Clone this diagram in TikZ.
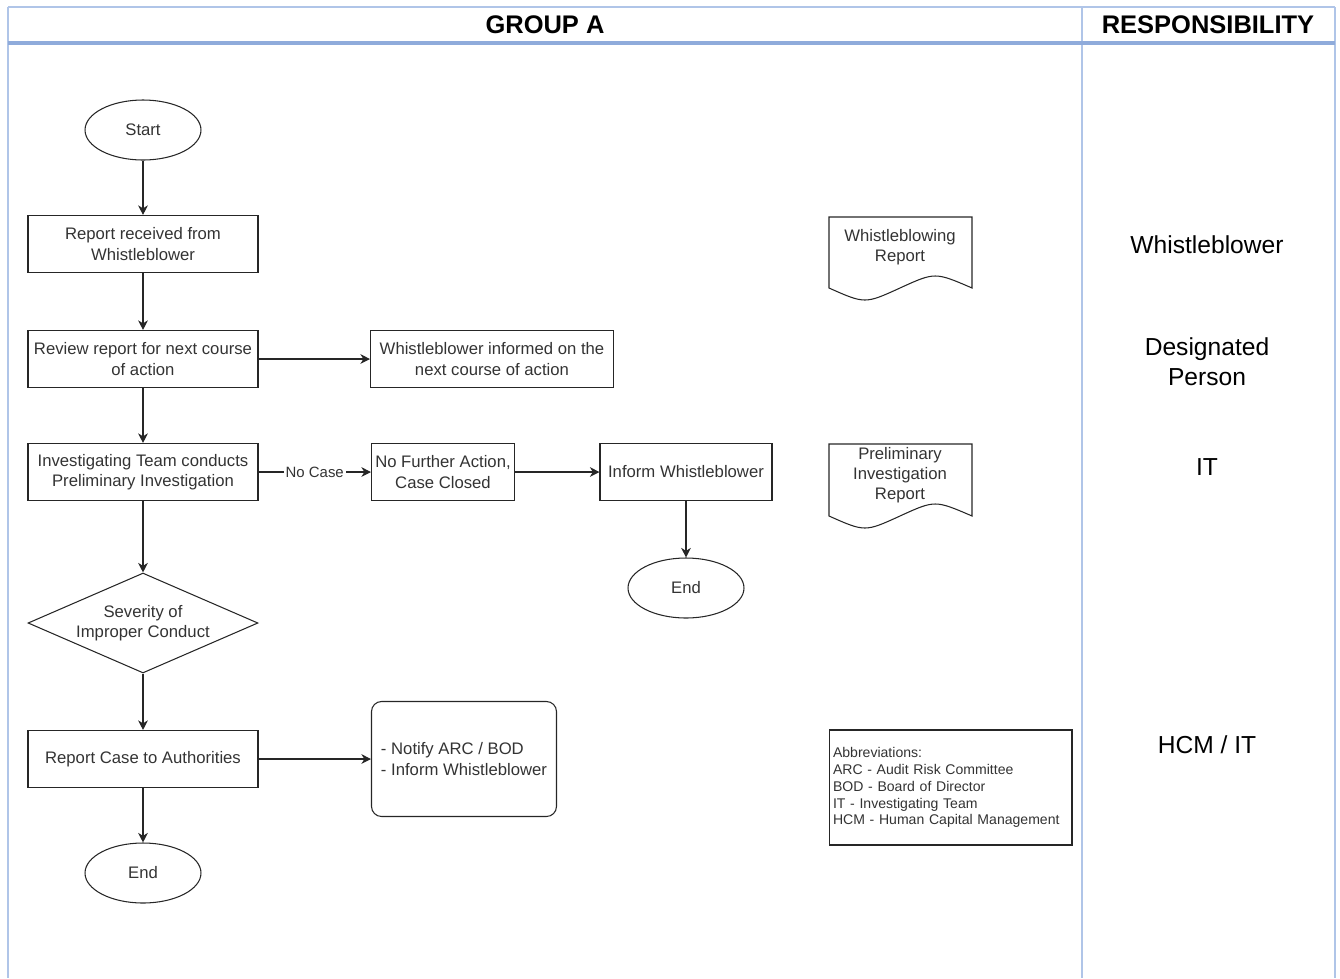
\documentclass[tikz,border=0pt]{standalone}
\usepackage{fontspec}
\setmainfont{Liberation Sans}
\usetikzlibrary{shapes.geometric,arrows.meta}
\definecolor{lanecol}{RGB}{176,197,232}
\definecolor{headcol}{RGB}{143,171,219}
\begin{document}
\begin{tikzpicture}[x=0.02cm,y=-0.02cm,
    every node/.style={font=\fontsize{9.5}{11.5}\selectfont, text=black!80},
    box/.style={draw=black!85, line width=0.6pt, minimum width=4.6cm, minimum height=1.14cm, align=center, inner sep=1pt},
    term/.style={draw=black!85, line width=0.6pt, ellipse, minimum width=2.32cm, minimum height=1.2cm, inner sep=0pt},
    decision/.style={draw=black!85, line width=0.6pt, diamond, aspect=2.3, minimum width=4.6cm, minimum height=2cm, align=center, inner sep=0pt},
    flow/.style={draw=black!85, line width=0.6pt, -{Stealth[length=5.5pt,width=5.5pt]}},
    docsheet/.style={draw=black!85, line width=0.6pt},
    lane/.style={draw=lanecol, line width=1.1pt},
    resp/.style={font=\fontsize{14}{17}\selectfont, text=black, align=center},
    headtext/.style={font=\fontsize{14.5}{17}\selectfont\bfseries, text=black}]
    \useasboundingbox (0,0) rectangle (1340,978);

    % lanes
    \draw[lane] (8,7) -- (1335,7);
    \draw[lane] (8,7) -- (8,978);
    \draw[lane] (1082,7) -- (1082,978);
    \draw[lane] (1335,7) -- (1335,978);
    \draw[headcol, line width=2.3pt] (8,43) -- (1335,43);
    \node[headtext] (grouphead) at (545,25) {GROUP A};
    \node[headtext] (resphead) at (1208,25) {RESPONSIBILITY};

    % flow
    \node[term] (start) at (143,130) {Start};
    \node[box] (received) at (143,244) {Report received from\\Whistleblower};
    \node[box] (review) at (143,359) {Review report for next course\\of action};
    \node[box, minimum width=4.86cm] (informed) at (492,359) {Whistleblower informed on the\\next course of action};
    \node[box] (prelim) at (143,472) {Investigating Team conducts\\Preliminary Investigation};
    \node[box, minimum width=2.86cm] (closed) at (443,472) {No Further Action,\\Case Closed};
    \node[box, minimum width=3.44cm] (informwb) at (686,472) {Inform Whistleblower};
    \node[term] (endone) at (686,588) {End};
    \node[decision] (severity) at (143,623) {Severity of\\Improper Conduct};
    \node[box] (authorities) at (143,759) {Report Case to Authorities};
    \node[box, rounded corners=0.2cm, minimum width=3.7cm, minimum height=2.3cm, align=left] (notify) at (464,759) {- Notify ARC / BOD\\- Inform Whistleblower};
    \node[term] (endtwo) at (143,873) {End};

    \draw[flow] (start) -- (received);
    \draw[flow] (received) -- (review);
    \draw[flow] (review) -- (informed);
    \draw[flow] (review) -- (prelim);
    \draw[flow] (prelim) -- node[fill=white, inner sep=1pt, font=\fontsize{8.5}{10}\selectfont] (nocase) {No Case} (closed);
    \draw[flow] (closed) -- (informwb);
    \draw[flow] (informwb) -- (endone);
    \draw[flow] (prelim) -- (severity);
    \draw[flow] (severity) -- (authorities);
    \draw[flow] (authorities) -- (notify);
    \draw[flow] (authorities) -- (endtwo);

    % documents
    \draw[docsheet] (829,217) -- (972,217) -- (972,288) .. controls (935,272) .. (900,288) .. controls (865,304) .. (829,288) -- cycle;
    \node[align=center] (wbreport) at (900,247) {Whistleblowing\\Report};
    \draw[docsheet] (829,444) -- (972,444) -- (972,516) .. controls (935,500) .. (900,516) .. controls (865,532) .. (829,516) -- cycle;
    \node[align=center] (pireport) at (900,475) {Preliminary\\Investigation\\Report};

    \node[draw=black!85, line width=0.6pt, text width=4.7cm, inner sep=0.08cm, minimum height=2.3cm, align=left, font=\fontsize{8}{9.6}\selectfont] (abbrev) at (950.5,787.5) {Abbreviations:\\ARC - Audit Risk Committee\\BOD - Board of Director\\IT - Investigating Team\\HCM - Human Capital Management};

    % responsibility
    \node[resp] (respwb) at (1207,245) {Whistleblower};
    \node[resp] (respdp) at (1207,362) {Designated\\Person};
    \node[resp] (respit) at (1207,467) {IT};
    \node[resp] (resphcm) at (1207,745) {HCM / IT};
\end{tikzpicture}
\end{document}
